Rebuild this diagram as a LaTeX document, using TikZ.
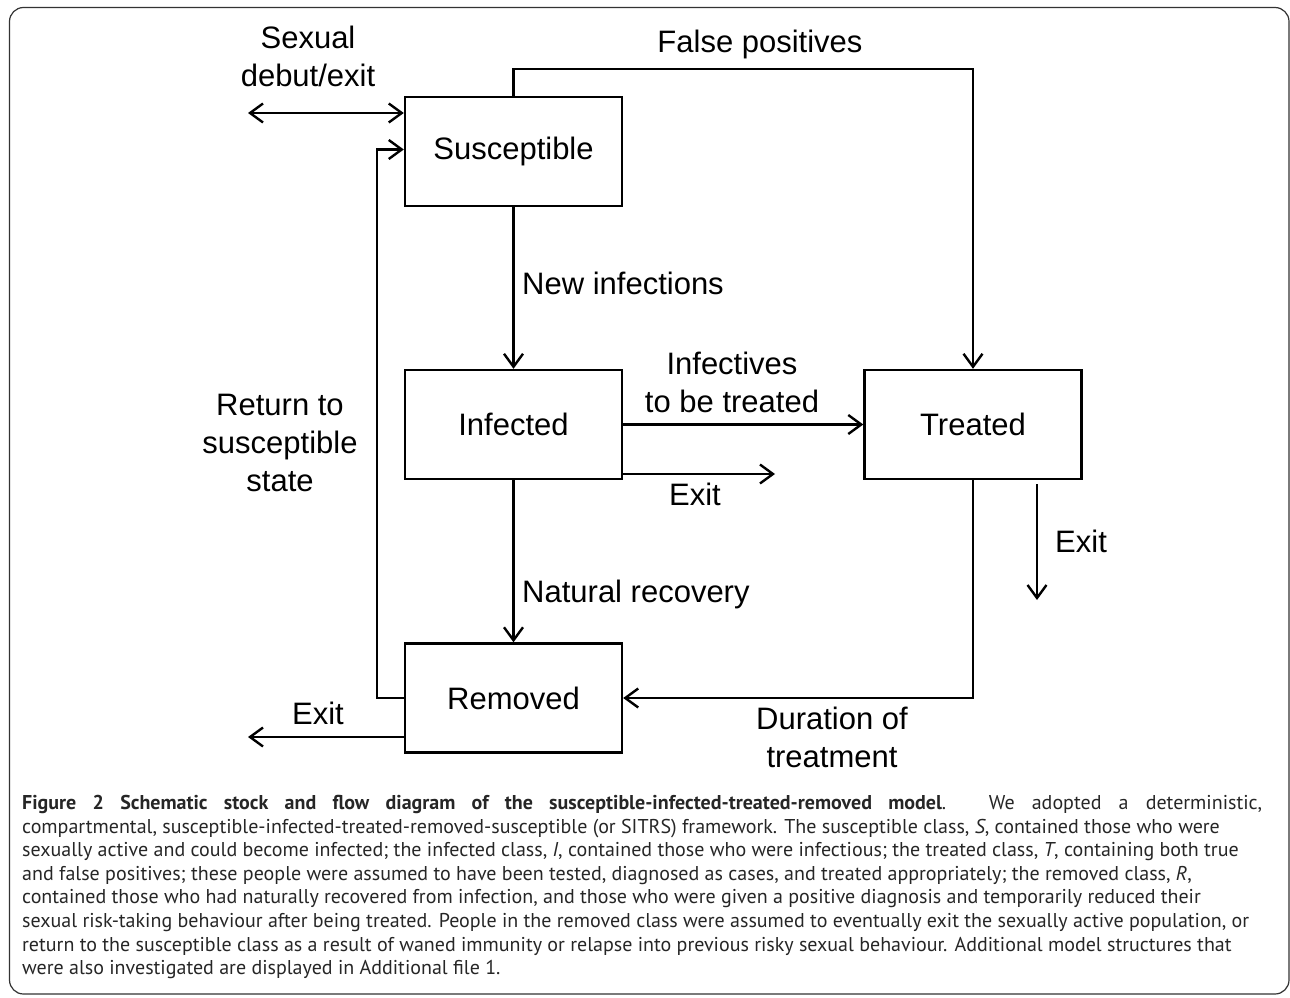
\documentclass[tikz,border=0pt]{standalone}
\usepackage{fontspec}
\setmainfont{Liberation Sans}
\newfontfamily\capfont{PT Sans}
\usetikzlibrary{arrows.meta}
\begin{document}
\begin{tikzpicture}[x=1pt,y=-1pt]
  \tikzstyle{every node}=[inner sep=0pt,font=\fontsize{31}{38}\selectfont]
  \tikzstyle{stock}=[draw,line width=2.4pt,minimum width=217pt,minimum height=109pt]
  \tikzstyle{flow}=[line width=2.4pt,>={Straight Barb[length=13pt,width=19pt]},->]
  \useasboundingbox (0,0) rectangle (1290,998);
  \draw[line width=1.2pt,black!80,rounded corners=14pt] (9.5,7.5) rectangle (1289,994);
  \node[stock] (S) at (513.5,151.5) {Susceptible};
  \node[stock] (I) at (513.5,424.5) {Infected};
  \node[stock] (T) at (973,424.5) {Treated};
  \node[stock] (R) at (513.5,698) {Removed};
  \coordinate (debut) at (248,113);
  \coordinate (iexit) at (775,474);
  \coordinate (texit) at (1037,600);
  \coordinate (rexit) at (248,737);
  \draw[flow,<->] (debut) -- (S.west |- debut);
  \draw[flow] (S.north) -- ++(0,-27) -| (T.north);
  \draw[flow] (S) -- (I);
  \draw[flow] (I) -- (T);
  \draw[flow] (I.east |- iexit) -- (iexit);
  \draw[flow] (I) -- (R);
  \draw[flow,shorten <=4pt] (T.south -| texit) -- (texit);
  \draw[flow] (T.south) |- (R.east);
  \draw[flow] (R.west) -- ++(-27,0) |- ([yshift=2pt]S.west);
  \draw[flow] (R.west |- rexit) -- (rexit);
  \node[align=center] (sd) at (308,56) {Sexual\\debut/exit};
  \node (fp) at (760,44) {False positives};
  \node[anchor=west] (ni) at (522,283) {New infections};
  \node[align=center] (itt) at (732,382) {Infectives\\to be treated};
  \node (ie) at (695,494) {Exit};
  \node[anchor=west] (te) at (1055,541) {Exit};
  \node[anchor=west] (nr) at (522,594) {Natural recovery};
  \node[align=center] (rs) at (280,443) {Return to\\susceptible\\state};
  \node[align=center] (dt) at (832,737) {Duration of\\treatment};
  \node (re) at (318,713) {Exit};
  \node[anchor=north west,align=left,text=black!85,font=\capfont\fontsize{20}{23.6}\selectfont] (cap) at (22,795) {%
    \makebox[1240pt][s]{\textbf{Figure 2 Schematic stock and flow diagram of the susceptible-infected-treated-removed model}. We adopted a deterministic,}\\
    compartmental, susceptible-infected-treated-removed-susceptible (or SITRS) framework. The susceptible class, \textit{S}, contained those who were\\
    sexually active and could become infected; the infected class, \textit{I}, contained those who were infectious; the treated class, \textit{T}, containing both true\\
    and false positives; these people were assumed to have been tested, diagnosed as cases, and treated appropriately; the removed class, \textit{R},\\
    contained those who had naturally recovered from infection, and those who were given a positive diagnosis and temporarily reduced their\\
    sexual risk-taking behaviour after being treated. People in the removed class were assumed to eventually exit the sexually active population, or\\
    return to the susceptible class as a result of waned immunity or relapse into previous risky sexual behaviour. Additional model structures that\\
    were also investigated are displayed in Additional file 1.};
\end{tikzpicture}
\end{document}
